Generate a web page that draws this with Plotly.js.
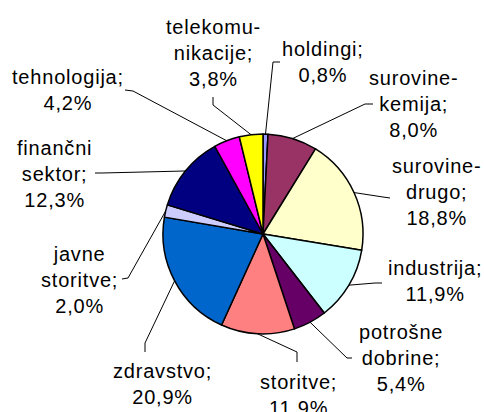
<!DOCTYPE html>
<html><head><meta charset="utf-8">
<script src="https://cdn.plot.ly/plotly-3.0.1.min.js"></script>
<style>html,body{margin:0;padding:0;background:#fff}#chart{width:484px;height:412px}
.annotation-text{letter-spacing:0.8px}</style>
</head><body><div id="chart"></div>
<script>
const categories = ["holdingi","surovine-kemija","surovine-drugo","industrija","potrošne dobrine","storitve","zdravstvo","javne storitve","finančni sektor","tehnologija","telekomunikacije"];
const labelTexts = ["holdingi;","surovine-<br>kemija;","surovine-<br>drugo;","industrija;","potrošne<br>dobrine;","storitve;","zdravstvo;","javne<br>storitve;","finančni<br>sektor;","tehnologija;","telekomu-<br>nikacije;"];
const shares = [0.8,8.0,18.8,11.9,5.4,11.9,20.9,2.0,12.3,4.2,3.8];
const valueLabels = ["0,8%","8,0%","18,8%","11,9%","5,4%","11,9%","20,9%","2,0%","12,3%","4,2%","3,8%"];
const colors = ["#9999FF","#993366","#FFFFCC","#CCFFFF","#660066","#FF8080","#0066CC","#CCCCFF","#000080","#FF00FF","#FFFF00"];

// layout (pixels)
const W = 484, H = 412, CX = 263, CY = 234, R = 100;
const labelPos = [[323,62],[413,104],[436,192],[435,281],[401,358],[298,395],[162,384],[79,280],[54,174],[68,90],[213,53]];
const leaderEnd = [[280,62],[373,104],[390,198],[382,283],[352,358],[297,362],[145,352],[122,279],[95,173],[125,90],[213,97]];
const leaderElbow = [[273,62],[365,104],[383,197],[375,283],[347,358],[297,352],[145,343],[128,278],[102,173],[133,91],[213,105]];

const px = x => x / W, py = y => 1 - y / H;
const total = shares.reduce((a, b) => a + b, 0);
let cum = 0;
const shapes = [], annotations = [];
shares.forEach((v, i) => {
  const mid = (cum + v / 2) / total * 2 * Math.PI;
  cum += v;
  const ex = CX + R * Math.sin(mid), ey = CY - R * Math.cos(mid);
  const [bx, by] = leaderElbow[i], [lx, ly] = leaderEnd[i];
  shapes.push({type: 'path', xref: 'paper', yref: 'paper',
    path: `M ${px(ex)} ${py(ey)} L ${px(bx)} ${py(by)} L ${px(lx)} ${py(ly)}`,
    line: {color: '#000', width: 1}});
  annotations.push({xref: 'paper', yref: 'paper', x: px(labelPos[i][0]), y: py(labelPos[i][1]),
    xanchor: 'center', yanchor: 'middle', showarrow: false, align: 'center',
    text: labelTexts[i] + '<br>' + valueLabels[i],
    font: {family: 'Liberation Sans, Arial, sans-serif', size: 20, color: '#000'}});
});

const data = [{
  type: 'pie', labels: categories, values: shares, sort: false, direction: 'clockwise', rotation: 0,
  textinfo: 'none', hoverinfo: 'label+percent',
  marker: {colors: colors, line: {color: '#000', width: 1.5}},
  domain: {x: [px(CX - R), px(CX + R)], y: [py(CY + R), py(CY - R)]},
  showlegend: false
}];
const layout = {width: W, height: H, margin: {l: 0, r: 0, t: 0, b: 0},
  paper_bgcolor: '#fff', showlegend: false, shapes: shapes, annotations: annotations};
Plotly.newPlot('chart', data, layout, {displayModeBar: false, staticPlot: true});
</script></body></html>
